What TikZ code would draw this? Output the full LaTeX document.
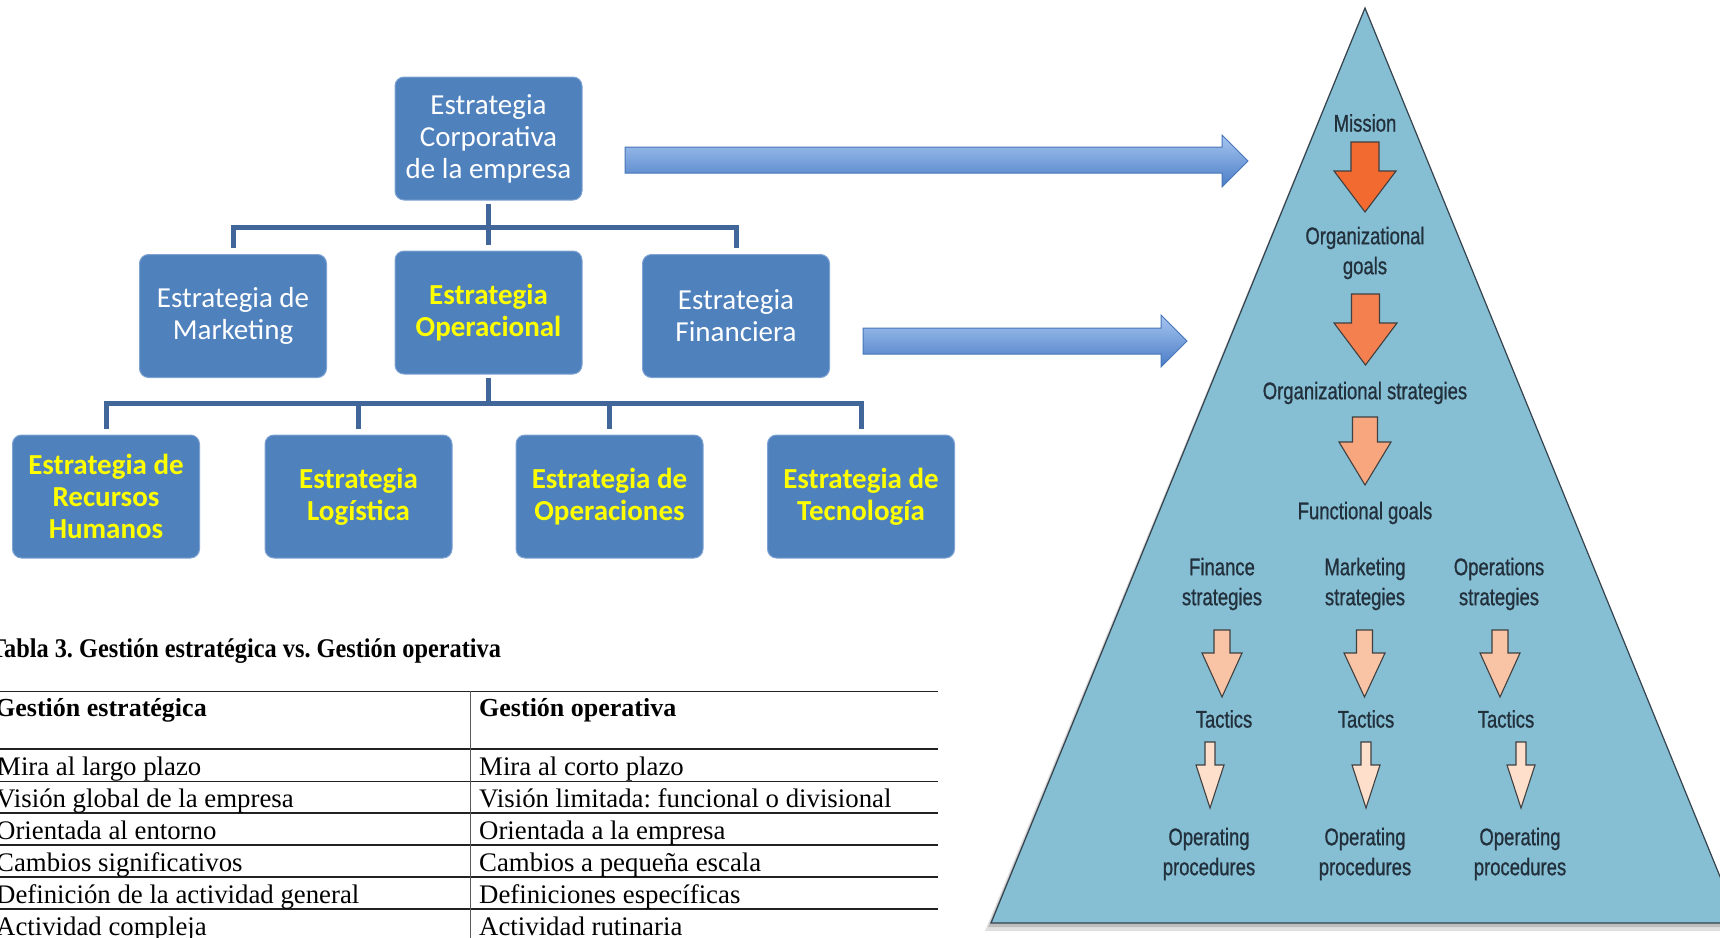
\documentclass[tikz,border=0pt]{standalone}
\usepackage{fontspec}
\setmainfont{Liberation Serif}
\newfontfamily\calib{Carlito}
\newfontfamily\narrowsans[FakeStretch=0.77,FakeBold=0.8]{Liberation Sans}
\newfontfamily\capfont[FakeStretch=0.9]{Liberation Serif Bold}
\usetikzlibrary{calc}
\frenchspacing
\definecolor{boxblue}{HTML}{4F81BD}
\definecolor{boxedge}{HTML}{7EA3D3}
\definecolor{linkblue}{HTML}{41679A}
\definecolor{arrtop}{HTML}{A7C6F0}
\definecolor{arrbot}{HTML}{4A7CC6}
\definecolor{arredge}{HTML}{4676B8}
\definecolor{tri}{HTML}{86BED3}
\definecolor{triedge}{HTML}{34434E}
\definecolor{tritext}{HTML}{22303C}
\definecolor{orA}{HTML}{F26A30}
\definecolor{orB}{HTML}{F4804F}
\definecolor{orC}{HTML}{F8A67E}
\definecolor{orD}{HTML}{F9C4A6}
\definecolor{orE}{HTML}{FDDFCB}
\definecolor{hlyellow}{HTML}{FFFF00}
\definecolor{rulegray}{HTML}{222222}
% centre x, top y, head base y, tip y, shaft half width, head half width, colour
\newcommand\blockdown[7]{%
  \draw[downarrow, fill=#7] (#1-#5,#2) -- (#1+#5,#2) -- (#1+#5,#3) -- (#1+#6,#3)
    -- (#1,#4) -- (#1-#6,#3) -- (#1-#5,#3) -- cycle;}
\tikzset{
  orgbox/.style={rounded corners=9pt, fill=boxblue, draw=boxedge, line width=1pt,
    minimum width=187pt, minimum height=123pt, align=center, text=white,
    font=\calib\fontsize{29}{32}\selectfont, inner sep=0pt},
  hl/.style={text=hlyellow, font=\calib\bfseries\fontsize{29}{32}\selectfont},
  link/.style={draw=linkblue, line width=5pt},
  bigarrow/.style={top color=arrtop, bottom color=arrbot, draw=arredge, line width=1pt},
  downarrow/.style={draw=black!75, line width=1.1pt, line join=miter},
  tritxt/.style={text=tritext, font=\narrowsans\fontsize{24}{30}\selectfont,
    align=center, inner sep=0pt},
  captxt/.style={anchor=base west, inner sep=0pt, font=\capfont\fontsize{27}{30}\selectfont},
  hdrtxt/.style={anchor=base west, inner sep=0pt, font=\bfseries\fontsize{26}{30}\selectfont},
  celltxt/.style={anchor=base west, inner sep=0pt, font=\fontsize{26.8}{30}\selectfont},
  thinrule/.style={draw=rulegray, line width=1pt},
  thickrule/.style={draw=rulegray, line width=2pt},
  midrule/.style={draw=rulegray, line width=1.5pt}
}
\begin{document}
\begin{tikzpicture}[x=1pt,y=-1pt]
\useasboundingbox (0,0) rectangle (1720,937);
\fill[white] (0,0) rectangle (1720,937);

% ---------------- organisation chart ----------------
\node[orgbox] (corp) at (488.5,138.5) {Estrategia\\Corporativa\\de la empresa};
\node[orgbox] (mkt) at (233,316) {Estrategia de\\Marketing};
\node[orgbox,hl] (oper) at (488.5,312.5) {Estrategia\\Operacional};
\node[orgbox] (fin) at (736,316) {Estrategia\\Financiera};
\node[orgbox,hl] (rh) at (106,496.5) {Estrategia de\\Recursos\\Humanos};
\node[orgbox,hl] (log) at (358.5,496.5) {Estrategia\\Logística};
\node[orgbox,hl] (ops) at (609.5,496.5) {Estrategia de\\Operaciones};
\node[orgbox,hl] (tec) at (861,496.5) {Estrategia de\\Tecnología};

\coordinate (j1) at (488.5,227);
\coordinate (j2) at (488.5,403);
\draw[link] ($(corp.south)+(0,3)$) -- ($(oper.north)+(0,-6)$);
\draw[link] ($(mkt.north)+(0,-6)$) |- (j1) -| ($(fin.north)+(0,-6)$);
\draw[link] ($(oper.south)+(0,3)$) -- (j2);
\draw[link] ($(rh.north)+(0,-6)$) |- (j2) -| ($(tec.north)+(0,-6)$);
\draw[link] ($(log.north)+(0,-6)$) -- (log.north |- j2);
\draw[link] ($(ops.north)+(0,-6)$) -- (ops.north |- j2);

% ---------------- block arrows ----------------
\path[bigarrow] (625,147) -- (1222,147) -- (1222,135) -- (1248,161) -- (1222,187)
  -- (1222,173) -- (625,173) -- cycle;
\path[bigarrow] (863,328) -- (1161,328) -- (1161,315) -- (1187,341) -- (1161,367)
  -- (1161,354) -- (863,354) -- cycle;

% ---------------- pyramid ----------------
\fill[black, opacity=0.12] (1361,16) -- (1735,931) -- (985,931) -- cycle;
\fill[black, opacity=0.15] (1363,12) -- (1737,927) -- (988,927) -- cycle;
\draw[fill=tri, draw=triedge, line width=1.2pt, line join=miter]
  (1365,8) -- (1739,923) -- (991,923) -- cycle;

\node[tritxt] (mission) at (1365,123) {Mission};
\node[tritxt] (orggoals) at (1365,253) {Organizational\\goals};
\node[tritxt] (orgstrat) at (1365,393) {Organizational strategies};
\node[tritxt] (funcgoals) at (1365,513) {Functional goals};
\node[tritxt] (finstrat) at (1222,584) {Finance\\strategies};
\node[tritxt] (mktstrat) at (1365,584) {Marketing\\strategies};
\node[tritxt] (opsstrat) at (1499,584) {Operations\\strategies};
\node[tritxt] (tac1) at (1224,719) {Tactics};
\node[tritxt] (tac2) at (1366,719) {Tactics};
\node[tritxt] (tac3) at (1506,719) {Tactics};
\node[tritxt] (proc1) at (1209,854) {Operating\\procedures};
\node[tritxt] (proc2) at (1365,854) {Operating\\procedures};
\node[tritxt] (proc3) at (1520,854) {Operating\\procedures};

\blockdown{1365}{142}{171}{212}{14}{31}{orA}
\blockdown{1365.5}{294}{323}{365}{14}{31.5}{orB}
\blockdown{1365}{417}{442}{485}{12.5}{26}{orC}
\blockdown{1222}{630}{653}{697}{8}{20}{orD}
\blockdown{1364.5}{630}{653}{697}{8}{20.5}{orD}
\blockdown{1500}{630}{653}{697}{8}{20}{orD}
\blockdown{1210}{742}{765}{808}{5}{14}{orE}
\blockdown{1366}{742}{765}{808}{5}{14}{orE}
\blockdown{1521}{742}{765}{808}{5}{14}{orE}

% ---------------- table ----------------
\node[captxt] (caption) at (-10,657) {Tabla 3. Gestión estratégica vs. Gestión operativa};

\draw[thinrule] (-2,691) -- (938,691);
\draw[thickrule] (-2,749) -- (938,749);
\draw[thinrule] (-2,781) -- (938,781);
\draw[midrule] (-2,813) -- (938,813);
\draw[midrule] (-2,845) -- (938,845);
\draw[midrule] (-2,877) -- (938,877);
\draw[midrule] (-2,909) -- (938,909);
\draw[draw=black!65, line width=1pt] (470,691) -- (470,940);

\node[hdrtxt] (h1) at (-5,716) {Gestión estratégica};
\node[hdrtxt] (h2) at (479,716) {Gestión operativa};

\node[celltxt] (l1) at (-3,775) {Mira al largo plazo};
\node[celltxt] (r1) at (479,775) {Mira al corto plazo};
\node[celltxt] (l2) at (-4,807) {Visión global de la empresa};
\node[celltxt] (r2) at (479,807) {Visión limitada: funcional o divisional};
\node[celltxt] (l3) at (-4,839) {Orientada al entorno};
\node[celltxt] (r3) at (479,839) {Orientada a la empresa};
\node[celltxt] (l4) at (-4,871) {Cambios significativos};
\node[celltxt] (r4) at (479,871) {Cambios a pequeña escala};
\node[celltxt] (l5) at (-4,903) {Definición de la actividad general};
\node[celltxt] (r5) at (479,903) {Definiciones específicas};
\node[celltxt] (l6) at (-4,935) {Actividad compleja};
\node[celltxt] (r6) at (479,935) {Actividad rutinaria};
\end{tikzpicture}
\end{document}
